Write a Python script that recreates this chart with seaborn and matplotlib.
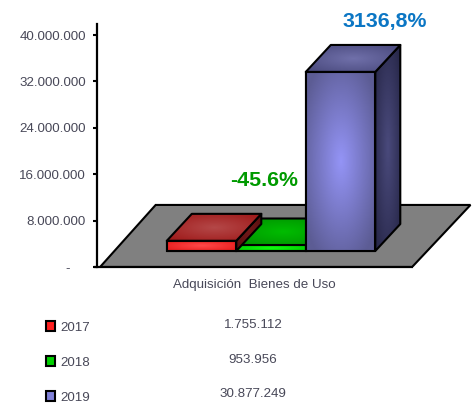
import numpy as np
import matplotlib
matplotlib.use("Agg")
import matplotlib.pyplot as plt
from matplotlib.colors import LinearSegmentedColormap
from matplotlib.patches import Polygon, Patch, Rectangle
import pandas as pd
import seaborn as sns

years = ["2017", "2018", "2019"]
values = [1755112, 953956, 30877249]
value_labels = ["1.755.112", "953.956", "30.877.249"]
category = "Adquisición  Bienes de Uso"
tick_values = [0, 8000000, 16000000, 24000000, 32000000, 40000000]
tick_labels = ["-\u00a0\u00a0\u00a0\u00a0", "8.000.000", "16.000.000", "24.000.000", "32.000.000", "40.000.000"]
notes = ["-45.6%", "3136,8%"]

base_colors = ["#ff2020", "#00d000", "#8080d8"]
shades = {
    "2017": dict(front=("#e81c1c", "#ff4a4a"), top=("#a01c1c", "#b44848"), side=("#5a1010", "#701818")),
    "2018": dict(front=("#00c800", "#12ff12"), top=("#009400", "#00bc00"), side=("#004800", "#006000")),
    "2019": dict(front=("#5c5c94", "#9494f6"), top=("#4c4c80", "#7070aa"), side=("#28284a", "#4a4a7c")),
}
layer = {"2018": 3, "2017": 4, "2019": 5}

sns.set_theme(style="white")
plt.rcParams["font.family"] = ["Liberation Sans", "DejaVu Sans"]

W, H = 475, 405
fig = plt.figure(figsize=(W / 100, H / 100), dpi=100, facecolor="white")
ax = fig.add_axes([97 / W, (H - 267) / H, 378 / W, 243 / H])

FLOOR = 2760000
DX, DY = 0.36, 4650000
XLIM = (-1.504, 3.935)
YLIM = (0, 41900000)

df = pd.DataFrame({"year": years, "value": values})
sns.barplot(data=df, x="year", y="value", hue="year", palette=base_colors, width=1.0,
            bottom=FLOOR, legend=False, ax=ax, edgecolor="black", linewidth=1.5)
bars = sorted([p for p in ax.patches if isinstance(p, Rectangle)], key=lambda p: p.get_x())

Z_y, Z_x = np.mgrid[-1:1:80j, -1:1:80j]
RADIAL = np.clip(1 - np.hypot(Z_x, Z_y) / 1.25, 0, 1)


def face(points, colors, z):
    points = np.asarray(points)
    cmap = LinearSegmentedColormap.from_list("f", colors)
    clip = Polygon(points, closed=True, transform=ax.transData, fill=False, edgecolor="none")
    ax.add_patch(clip)
    img = ax.imshow(RADIAL, cmap=cmap, vmin=0, vmax=1, aspect="auto", origin="lower", zorder=z,
                    extent=(points[:, 0].min(), points[:, 0].max(), points[:, 1].min(), points[:, 1].max()),
                    interpolation="bilinear")
    img.set_clip_path(clip)
    ax.add_patch(Polygon(points, closed=True, fill=False, edgecolor="black", linewidth=1.5,
                         joinstyle="round", zorder=z + 0.05))


# floor
ax.add_patch(Polygon([(-1.46, 0), (3.03, 0), (3.87, 10700000), (-0.66, 10700000)], closed=True,
                     facecolor="#808080", edgecolor="black", linewidth=1.5, zorder=1))

for bar, year in zip(bars, years):
    x0, x1 = bar.get_x(), bar.get_x() + bar.get_width()
    y0, y1 = bar.get_y(), bar.get_y() + bar.get_height()
    z = layer[year]
    s = shades[year]
    bar.set_zorder(z)
    face([(x1, y0), (x1 + DX, y0 + DY), (x1 + DX, y1 + DY), (x1, y1)], s["side"], z + 0.1)
    face([(x0, y1), (x1, y1), (x1 + DX, y1 + DY), (x0 + DX, y1 + DY)], s["top"], z + 0.2)
    face([(x0, y0), (x1, y0), (x1, y1), (x0, y1)], s["front"], z + 0.3)

ax.set_xlim(*XLIM)
ax.set_ylim(*YLIM)

ax.set_yticks(tick_values)
ax.set_yticklabels(tick_labels, color="#484858", fontsize=9.6)
ax.set_xticks([])
ax.tick_params(axis="y", left=True, length=3, width=1.5, color="black", pad=5)
sns.despine(ax=ax, top=True, right=True)
for side in ("left", "bottom"):
    ax.spines[side].set_color("black")
    ax.spines[side].set_linewidth(1.6)
    ax.spines[side].set_zorder(2)
ax.spines["bottom"].set_bounds(XLIM[0] - 0.03, 3.03)
ax.patch.set_alpha(0)

ax.set_xlabel(category, fontsize=9.6, color="#484858")
ax.set_ylabel("")
ax.xaxis.set_label_coords((254 - 97) / 378, (267 - 285) / 243, transform=ax.transAxes)
ax.xaxis.label.set_va("center")

fig.text(264 / W, 1 - 180 / H, notes[0], color="#009a00", fontsize=15.4, fontweight="bold", ha="center", va="center")
fig.text(385 / W, 1 - 21 / H, notes[1], color="#0b76c4", fontsize=15.4, fontweight="bold", ha="center", va="center")

handles = [Patch(facecolor=c, edgecolor="black", linewidth=1.5) for c in base_colors]
leg = fig.legend(handles, years, loc="upper left", bbox_to_anchor=(46 / W, 1 - 321 / H), bbox_transform=fig.transFigure,
                 frameon=False, fontsize=9.6, labelcolor="#484858", handlelength=0.65, handleheight=0.8,
                 handletextpad=0.45, labelspacing=1.68, borderpad=0, borderaxespad=0)

for label, py in zip(value_labels, [325, 360, 394]):
    fig.text(253 / W, 1 - py / H, label, color="#484858", fontsize=9.6, ha="center", va="center")

fig.savefig("out.png", dpi=100)
